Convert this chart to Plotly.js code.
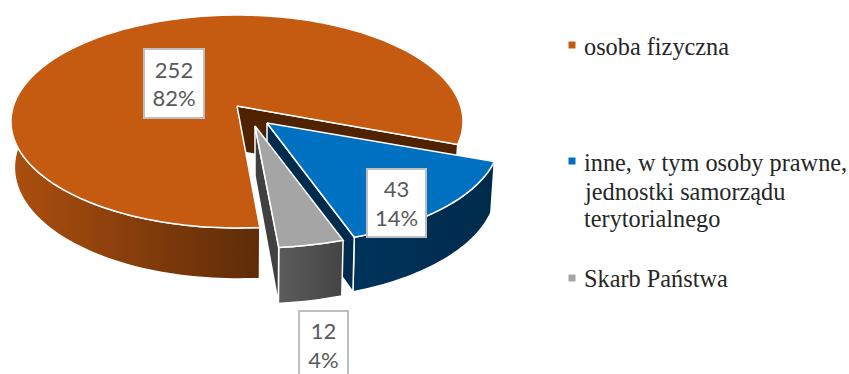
<!DOCTYPE html>
<html>
<head>
<meta charset="utf-8">
<script src="https://cdn.plot.ly/plotly-3.0.1.min.js"></script>
<style>html,body{margin:0;padding:0;background:#fff;overflow:hidden}#chart{width:849px;height:374px}</style>
</head>
<body>
<div id="chart"></div>
<script>
// Ownership structure, drawn as a tilted, exploded 3D pie
const categories = [['osoba fizyczna'], ['inne, w tym osoby prawne,', 'jednostki samorządu', 'terytorialnego'], ['Skarb Państwa']];
const values = [252, 43, 12];
const topColors = ['#C55A11', '#0070C0', '#A5A5A5'];
const innerColors = ['#4F2200', '#012B4C', '#404040'];
const wallFrom = ['#AD4F0F', '#00345C', '#5C5C5C'];
const wallTo = ['#5E2C08', '#002A4A', '#444444'];

// Projection of the pie disc: apex of the first slice, radii, perspective
const apex = [237, 106], A = 223.6, B = 104.2, K = 0.1456;
const firstAngle = 85;                       // degrees, clockwise from +x on screen
const pull = [[0, 0], [30, 17], [18, 20]];   // explosion of each slice
const spread = [1, 1.03, 1.04];              // pulled slices sit nearer the viewer
const depth = [45, 49, 50], depthNear = 6, shrink = 0.985;

function rim(deg, i) {
  const t = deg * Math.PI / 180, u = Math.cos(t), v = Math.sin(t), w = 1 - K * v;
  return [apex[0] + pull[i][0] + spread[i] * A * u / w, apex[1] + pull[i][1] + B * v / w];
}
function lowerRim(deg, i) {
  const p = rim(deg, i), v = Math.sin(deg * Math.PI / 180);
  const cx = apex[0] + pull[i][0];
  return [cx + (p[0] - cx) * shrink, p[1] + depth[i] + depthNear * v];
}
function arc(from, to, fn, i) {
  const pts = [], n = Math.max(2, Math.ceil(Math.abs(to - from) / 1.5));
  for (let k = 0; k <= n; k++) pts.push(fn(from + (to - from) * k / n, i));
  return pts;
}
function poly(pts, extra) {
  const closed = pts.concat([pts[0]]);
  return Object.assign({
    x: closed.map(p => p[0]), y: closed.map(p => p[1]),
    type: 'scatter', mode: 'lines', fill: 'toself', hoverinfo: 'skip', showlegend: false,
    line: {color: '#fff', width: 1.5, simplify: false}
  }, extra);
}
function solid(c) { return {fillcolor: c}; }
function shaded(c0, c1) {
  return {fillgradient: {type: 'horizontal', colorscale: [[0, c0], [1, c1]]}};
}
function wall(from, to, i, style) {
  return poly(arc(from, to, rim, i).concat(arc(to, from, lowerRim, i)), style);
}
// Face exposed by pulling the slices apart, along the slice's closing edge
function cutFace(deg, i) {
  const c = [apex[0] + pull[i][0], apex[1] + pull[i][1]];
  return poly([c, rim(deg, i), lowerRim(deg, i), [c[0], c[1] + depth[i]]], solid(innerColors[i]));
}

const total = values.reduce((a, b) => a + b, 0);
let start = firstAngle;
const spans = values.map(v => { const s = [start, start + v / total * 360]; start = s[1]; return s; });
const traces = [];
values.forEach((v, i) => {
  const [a0, a1] = spans[i], c = [apex[0] + pull[i][0], apex[1] + pull[i][1]];
  if (i === 0) {
    traces.push(wall(a0, 200, i, shaded(wallFrom[i], wallTo[i])));
    traces.push(wall(358, a1, i, solid(wallTo[i])));
  } else {
    traces.push(wall(a0, a1, i, shaded(wallFrom[i], wallTo[i])));
  }
  traces.push(cutFace(a1, i));
  traces.push(poly([c].concat(arc(a0, a1, rim, i)), solid(topColors[i])));
});

// Legend keys
const keyY = [45, 161, 278];
traces.push({
  x: keyY.map(() => 572), y: keyY, type: 'scatter', mode: 'markers', hoverinfo: 'skip', showlegend: false,
  marker: {symbol: 'square', size: 7, color: topColors, line: {width: 0}}
});

const boxes = [[173.5, 83], [396, 203], [323, 345]];
const boxSize = [[58, 67], [57, 66], [47, 66]];
const labelAnnotations = values.map((v, i) => ({
  x: boxes[i][0], y: boxes[i][1], xref: 'x', yref: 'y', showarrow: false,
  text: v + '<br>' + Math.round(v / total * 100) + '%',
  width: boxSize[i][0], height: boxSize[i][1], bgcolor: '#fff', bordercolor: '#BFBFBF', borderwidth: 2,
  borderpad: 0, font: {family: 'Lato, sans-serif', size: 22, color: '#595959'}
}));
const lineY = [[46], [162, 191, 218], [278]];
const legendAnnotations = [];
categories.forEach((lines, i) => lines.forEach((t, k) => legendAnnotations.push({
  x: 582, y: lineY[i][k], xref: 'x', yref: 'y', xanchor: 'left', align: 'left', showarrow: false,
  text: t, font: {family: '"Liberation Serif", serif', size: 24.3, color: '#262626'}
})));

const hidden = {visible: false, fixedrange: true};
Plotly.newPlot('chart', traces, {
  width: 849, height: 374, margin: {l: 0, r: 0, t: 0, b: 0},
  paper_bgcolor: '#fff', plot_bgcolor: '#fff',
  xaxis: Object.assign({range: [0, 849]}, hidden),
  yaxis: Object.assign({range: [374, 0]}, hidden),
  annotations: labelAnnotations.concat(legendAnnotations), showlegend: false
}, {displayModeBar: false, staticPlot: true});
</script>
</body>
</html>
